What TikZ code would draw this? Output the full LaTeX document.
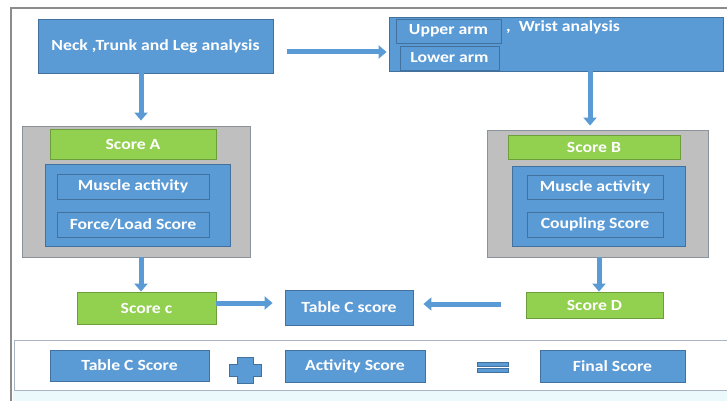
\documentclass[tikz,border=0pt]{standalone}
\usepackage{fontspec}
\setmainfont{Carlito}[FakeStretch=1.14]
\usetikzlibrary{arrows.meta,calc}
\definecolor{bfill}{HTML}{5B9BD5}
\definecolor{bdraw}{HTML}{41719C}
\definecolor{gfill}{HTML}{92D050}
\definecolor{gdraw}{HTML}{6E9E3C}
\definecolor{grfill}{HTML}{BFBFBF}
\definecolor{grdraw}{HTML}{8A929C}
\definecolor{framec}{HTML}{8C8C8C}
\definecolor{panelc}{HTML}{A9B3C1}
\definecolor{stripc}{HTML}{EBF8FC}
\tikzset{
  lbl/.style={font=\fontsize{15.5}{17}\selectfont\bfseries, text=white},
  bluebox/.style={rectangle, fill=bfill, draw=bdraw, line width=0.8pt, inner sep=0pt, lbl},
  greenbox/.style={rectangle, fill=gfill, draw=gdraw, line width=0.8pt, inner sep=0pt, lbl},
  graybox/.style={rectangle, fill=grfill, draw=grdraw, line width=0.9pt, inner sep=0pt},
  arr/.style={draw=bfill, line width=5pt, -{Triangle[width=13pt,length=8pt]}},
}
\begin{document}
\begin{tikzpicture}[x=1pt,y=-1pt]
\useasboundingbox (0,0) rectangle (727,401);
% frame and strip
\fill[stripc] (13,391) rectangle (727,401);
\draw[framec, line width=1.3pt] (727,8) -- (11,8) -- (11,401);
\draw[panelc, line width=1pt] (727,340) -- (14,340) -- (14,390) -- (727,390);
% top row
\node[bluebox, minimum width=235pt, minimum height=54pt] (neck) at (155.5,46) {Neck ,Trunk and Leg analysis};
\node[bluebox, minimum width=334pt, minimum height=54pt] (topright) at (556,44) {};
\node[bluebox, minimum width=105pt, minimum height=24pt] (upper) at (448.5,31) {Upper arm};
\node[bluebox, minimum width=99pt, minimum height=24pt] (lower) at (449.5,58) {Lower arm};
\node[lbl, anchor=west, inner sep=0pt] (wrist) at (506,27) {,\ \ Wrist analysis};
% left group
\node[graybox, minimum width=228pt, minimum height=131pt] (grayL) at (136,191.5) {};
\node[greenbox, minimum width=166pt, minimum height=30pt] (scoreA) at (133,144) {Score A};
\node[bluebox, minimum width=185pt, minimum height=82pt] (blueL) at (137.5,205) {};
\node[bluebox, minimum width=152pt, minimum height=25pt] (muscleL) at (133,186.5) {Muscle activity};
\node[bluebox, minimum width=152pt, minimum height=25pt] (forceL) at (133,224.5) {Force/Load Score};
% right group
\node[graybox, minimum width=221pt, minimum height=127pt] (grayR) at (597.5,193.5) {};
\node[greenbox, minimum width=172pt, minimum height=24pt] (scoreB) at (594,147) {Score B};
\node[bluebox, minimum width=173pt, minimum height=80pt] (blueR) at (598.5,206) {};
\node[bluebox, minimum width=136pt, minimum height=24pt] (muscleR) at (595,187) {Muscle activity};
\node[bluebox, minimum width=136pt, minimum height=25pt] (couplingR) at (595,224.5) {Coupling Score};
% score row
\node[greenbox, minimum width=139pt, minimum height=32pt] (scoreC) at (146.5,308) {Score c};
\node[bluebox, minimum width=128pt, minimum height=35pt] (tableC) at (349,307.5) {Table C score};
\node[greenbox, minimum width=137pt, minimum height=26pt] (scoreD) at (594.5,305) {Score D};
% bottom row
\node[bluebox, minimum width=159pt, minimum height=31pt] (tableC2) at (129.5,365.5) {Table C Score};
\node[bluebox, minimum width=140pt, minimum height=32pt] (activity) at (355,366) {Activity Score};
\node[bluebox, minimum width=145pt, minimum height=32pt] (final) at (612.5,366) {Final Score};
% plus and equals
\filldraw[fill=bfill, draw=bdraw, line width=0.8pt]
  (237,357) -- (253,357) -- (253,364) -- (261,364) -- (261,376) -- (253,376) -- (253,383)
  -- (237,383) -- (237,376) -- (229,376) -- (229,364) -- (237,364) -- cycle;
\filldraw[fill=bfill, draw=bdraw, line width=0.8pt] (477,362) rectangle (508,366.5);
\filldraw[fill=bfill, draw=bdraw, line width=0.8pt] (477,368) rectangle (508,372.5);
% arrows
\draw[arr] ($(neck.east)+(14,6)$) -- ($(topright.west)+(-2,8)$);
\draw[arr] ($(neck.south)+(-14.5,0)$) -- ($(grayL.north)+(5,-5)$);
\draw[arr] ($(topright.south)+(34,0)$) -- ($(grayR.north)+(-7.5,-4)$);
\draw[arr] ($(grayL.south)+(5,0)$) -- ($(scoreC.north)+(-5.5,0)$);
\draw[arr] ($(scoreC.east)+(0,-5)$) -- ($(tableC.west)+(-12,-4.5)$);
\draw[arr] ($(scoreD.west)+(-25,-1)$) -- ($(tableC.east)+(10,-3.5)$);
\draw[arr] ($(grayR.south)+(1.5,0)$) -- ($(scoreD.north)+(4.5,0)$);
\end{tikzpicture}
\end{document}
